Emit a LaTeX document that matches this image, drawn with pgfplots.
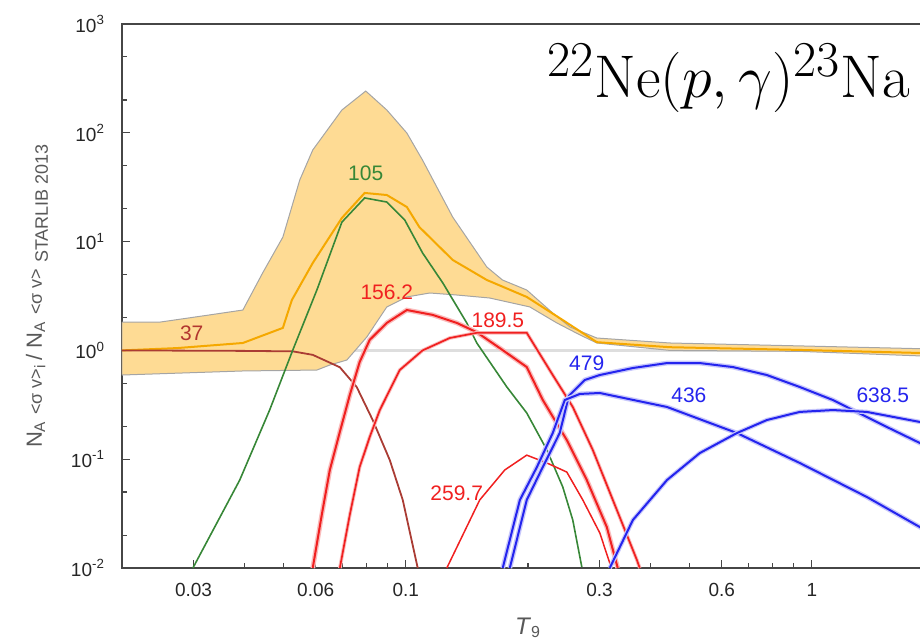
\documentclass[border=0pt]{standalone}
\usepackage{pgfplots}
\pgfplotsset{compat=1.18}
\usepackage{fontspec}
\newfontfamily\helv{Liberation Sans}
\definecolor{bandfill}{RGB}{254,219,148}
\definecolor{bandedge}{RGB}{165,165,165}
\definecolor{orangeline}{RGB}{245,168,0}
\definecolor{greenline}{RGB}{55,135,55}
\definecolor{brownline}{RGB}{170,60,52}
\definecolor{redline}{RGB}{240,32,32}
\definecolor{blueline}{RGB}{36,36,238}
\definecolor{axisgray}{RGB}{70,70,70}
\definecolor{labelgray}{RGB}{88,88,88}
\definecolor{oneline}{RGB}{222,222,222}
\begin{document}
\begin{tikzpicture}
\begin{axis}[
  at={(0,0)}, anchor=south west,
  scale only axis, width=406pt, height=272pt,
  xmode=log, ymode=log,
  xmin=0.02, xmax=2, ymin=0.01, ymax=1000,
  axis line style={draw=axisgray, line width=0.9pt},
  xtick={0.03,0.06,0.1,0.3,0.6,1},
  xticklabels={0.03,0.06,0.1,0.3,0.6,1},
  minor xtick={0.04,0.05,0.07,0.08,0.09,0.2,0.4,0.5,0.7,0.8,0.9},
  ytick={0.01,0.1,1,10,100,1000},
  yticklabels={10\textsuperscript{-2},10\textsuperscript{-1},10\textsuperscript{0},10\textsuperscript{1},10\textsuperscript{2},10\textsuperscript{3}},
  minor ytick={0.02,0.05,0.2,0.5,2,5,20,50,200,500},
  tick align=inside, xtick pos=left, ytick pos=left,
  major tick length=4pt, minor tick length=2.5pt,
  tick style={draw=axisgray, line width=0.6pt},
  xticklabel style={font=\helv\fontsize{9.5}{11}\selectfont, text=black!85, yshift=-4pt},
  yticklabel style={font=\helv\fontsize{9.5}{11}\selectfont, text=black!85, xshift=-5pt},
]
% reference line at unity
\addplot[oneline, line width=1.5pt] coordinates {(0.02,1) (2,1)};
% uncertainty band
\addplot[fill=bandfill, draw=bandedge, line width=0.5pt] coordinates {
(0.02,1.82) (0.0248,1.82) (0.0329,2.12) (0.0397,2.35) (0.0444,5.15) (0.0498,11.0) (0.0548,36.8) (0.059,69.5) (0.0696,162) (0.0797,242) (0.0898,162) (0.1006,99.6) (0.110,56) (0.1305,16.8) (0.1583,5.85) (0.173,4.44) (0.1986,3.59) (0.230,2.21) (0.254,1.64) (0.2954,1.30) (0.4469,1.17) (0.934,1.10) (2.0,1.03)
(2.0,0.88) (0.934,0.98) (0.4469,1.0) (0.2954,1.17) (0.2683,1.39) (0.2354,1.79) (0.202,2.51) (0.161,3.03) (0.1335,3.23) (0.1146,3.37) (0.1006,3.10) (0.0898,2.51) (0.0802,1.33) (0.0716,0.816) (0.065,0.734) (0.0604,0.66) (0.0397,0.647) (0.02,0.594)
} -- cycle;
% recommended total rate
\addplot[orangeline, line width=1pt] coordinates {
(0.02,1.0) (0.0273,1.05) (0.0397,1.17) (0.0498,1.61) (0.0524,2.90) (0.059,6.36) (0.0696,16.5) (0.0792,28) (0.0898,26.8) (0.1006,20.8) (0.108,13.6) (0.1305,6.78) (0.1583,4.44) (0.1986,3.10) (0.2436,1.90) (0.2954,1.19) (0.4469,1.07) (0.934,1.01) (2.0,0.94)
};
% 37 keV
\addplot[brownline, line width=0.9pt] coordinates {
(0.02,1.0) (0.0397,0.99) (0.0527,0.98) (0.059,0.91) (0.0688,0.70) (0.0757,0.461) (0.0829,0.229) (0.0913,0.0984) (0.0983,0.0422) (0.107,0.01)
};
% 105 keV
\addplot[greenline, line width=0.8pt] coordinates {
(0.0299,0.01) (0.039,0.0644) (0.0462,0.283) (0.0527,1.01) (0.0604,3.59) (0.0696,15.1) (0.0792,25.2) (0.0898,23.1) (0.0994,15.8) (0.110,7.86) (0.1234,4.16) (0.1413,1.79) (0.1496,1.17) (0.1774,0.461) (0.1986,0.266) (0.2226,0.1216) (0.2436,0.0555) (0.2578,0.0276) (0.2714,0.0102)
};
% 156.2 keV
\addplot[redline!30, line width=2.4pt] coordinates {
(0.059,0.01) (0.0621,0.0308) (0.065,0.0796) (0.0688,0.178) (0.0728,0.389) (0.077,0.782) (0.0815,1.25) (0.0898,1.79) (0.1006,2.35) (0.1165,2.12) (0.1335,1.79) (0.1495,1.47) (0.1704,1.05) (0.1986,0.703) (0.2175,0.35) (0.2492,0.150) (0.2791,0.0644) (0.3127,0.0238) (0.3327,0.01)
};
\addplot[redline, line width=1.0pt] coordinates {
(0.059,0.01) (0.0621,0.0308) (0.065,0.0796) (0.0688,0.178) (0.0728,0.389) (0.077,0.782) (0.0815,1.25) (0.0898,1.79) (0.1006,2.35) (0.1165,2.12) (0.1335,1.79) (0.1495,1.47) (0.1704,1.05) (0.1986,0.703) (0.2175,0.35) (0.2492,0.150) (0.2791,0.0644) (0.3127,0.0238) (0.3327,0.01)
};
% 189.5 keV
\addplot[redline!30, line width=1.8pt] coordinates {
(0.0688,0.01) (0.0728,0.0308) (0.077,0.0848) (0.0815,0.160) (0.0863,0.283) (0.0966,0.66) (0.110,1.0) (0.1283,1.30) (0.1495,1.45) (0.1986,1.45) (0.2301,0.594) (0.2578,0.302) (0.2888,0.1216) (0.3236,0.0422) (0.3707,0.0119) (0.377,0.01)
};
\addplot[redline, line width=0.85pt] coordinates {
(0.0688,0.01) (0.0728,0.0308) (0.077,0.0848) (0.0815,0.160) (0.0863,0.283) (0.0966,0.66) (0.110,1.0) (0.1283,1.30) (0.1495,1.45) (0.1986,1.45) (0.2301,0.594) (0.2578,0.302) (0.2888,0.1216) (0.3236,0.0422) (0.3707,0.0119) (0.377,0.01)
};
% 259.7 keV
\addplot[redline, line width=0.75pt] coordinates {
(0.1262,0.01) (0.1521,0.0422) (0.1753,0.0796) (0.1986,0.109) (0.2226,0.0923) (0.2492,0.0762) (0.2729,0.0422) (0.3005,0.021) (0.318,0.0111) (0.3216,0.01)
};
% 479 keV
\addplot[blueline!25, line width=2.4pt] coordinates {
(0.1804,0.01) (0.1986,0.0422) (0.2175,0.0848) (0.2394,0.174) (0.2521,0.381) (0.276,0.535) (0.3005,0.594) (0.3625,0.689) (0.44,0.765) (0.53,0.765) (0.639,0.703) (0.775,0.594) (0.934,0.461) (1.127,0.35) (1.262,0.283) (1.53,0.198) (1.845,0.141) (2.0,0.122)
};
\addplot[blueline, line width=1.0pt] coordinates {
(0.1804,0.01) (0.1986,0.0422) (0.2175,0.0848) (0.2394,0.174) (0.2521,0.381) (0.276,0.535) (0.3005,0.594) (0.3625,0.689) (0.44,0.765) (0.53,0.765) (0.639,0.703) (0.775,0.594) (0.934,0.461) (1.127,0.35) (1.262,0.283) (1.53,0.198) (1.845,0.141) (2.0,0.122)
};
% 436 keV
\addplot[blueline!25, line width=2.4pt] coordinates {
(0.1733,0.01) (0.191,0.0422) (0.2104,0.0848) (0.2301,0.174) (0.2464,0.35) (0.2683,0.398) (0.3005,0.406) (0.44,0.302) (0.654,0.174) (0.934,0.0923) (1.366,0.045) (1.845,0.0238) (2.0,0.0201)
};
\addplot[blueline, line width=1.0pt] coordinates {
(0.1733,0.01) (0.191,0.0422) (0.2104,0.0848) (0.2301,0.174) (0.2464,0.35) (0.2683,0.398) (0.3005,0.406) (0.44,0.302) (0.654,0.174) (0.934,0.0923) (1.366,0.045) (1.845,0.0238) (2.0,0.0201)
};
% 638.5 keV
\addplot[blueline!25, line width=2.2pt] coordinates {
(0.318,0.01) (0.3625,0.0276) (0.44,0.0644) (0.53,0.114) (0.654,0.174) (0.775,0.229) (0.934,0.272) (1.127,0.283) (1.366,0.272) (1.845,0.22) (2.0,0.206)
};
\addplot[blueline, line width=1.0pt] coordinates {
(0.318,0.01) (0.3625,0.0276) (0.44,0.0644) (0.53,0.114) (0.654,0.174) (0.775,0.229) (0.934,0.272) (1.127,0.283) (1.366,0.272) (1.845,0.22) (2.0,0.206)
};
% curve labels
\node[text=brownline!90!red, font=\helv\fontsize{10.5}{12}\selectfont] at (axis cs:0.0297,1.445) {37};
\node[text=greenline, font=\helv\fontsize{10.5}{12}\selectfont] at (axis cs:0.0797,42.7) {105};
\node[text=redline, font=\helv\fontsize{10.5}{12}\selectfont] at (axis cs:0.0898,3.44) {156.2};
\node[text=redline, font=\helv\fontsize{10.5}{12}\selectfont] at (axis cs:0.1686,1.90) {189.5};
\node[text=redline, font=\helv\fontsize{10.5}{12}\selectfont] at (axis cs:0.1335,0.0489) {259.7};
\node[text=blueline, font=\helv\fontsize{10.5}{12}\selectfont] at (axis cs:0.279,0.767) {479};
\node[text=blueline, font=\helv\fontsize{10.5}{12}\selectfont] at (axis cs:0.498,0.389) {436};
\node[text=blueline, font=\helv\fontsize{10.5}{12}\selectfont] at (axis cs:1.496,0.389) {638.5};
\end{axis}
% axis labels
\node[rotate=90, text=labelgray, inner sep=0pt] at (-42.5pt,136pt) {\helv\fontsize{11}{12}\selectfont N\textsubscript{A} {\fontsize{9}{10}\selectfont <σ v>}\textsubscript{i}\,/ N\textsubscript{A} {\fontsize{9}{10}\selectfont <σ v>} \raisebox{-3pt}{\fontsize{9}{10}\selectfont STARLIB 2013}};
\node[text=labelgray, inner sep=0pt] at (203pt,-30pt) {\helv\fontsize{12}{14}\selectfont\textit{T}\textsubscript{9}};
% title
\node[anchor=base west, inner sep=0pt] at (212.5pt,235pt) {\scalebox{1.21}{\fontsize{24.88}{28}\selectfont $^{22}\mathrm{Ne}(p,\gamma)^{23}\mathrm{Na}$}};
\pgfresetboundingbox
\path[use as bounding box] (-61pt,-37.5pt) rectangle (399pt,284pt);
\end{tikzpicture}
\end{document}
